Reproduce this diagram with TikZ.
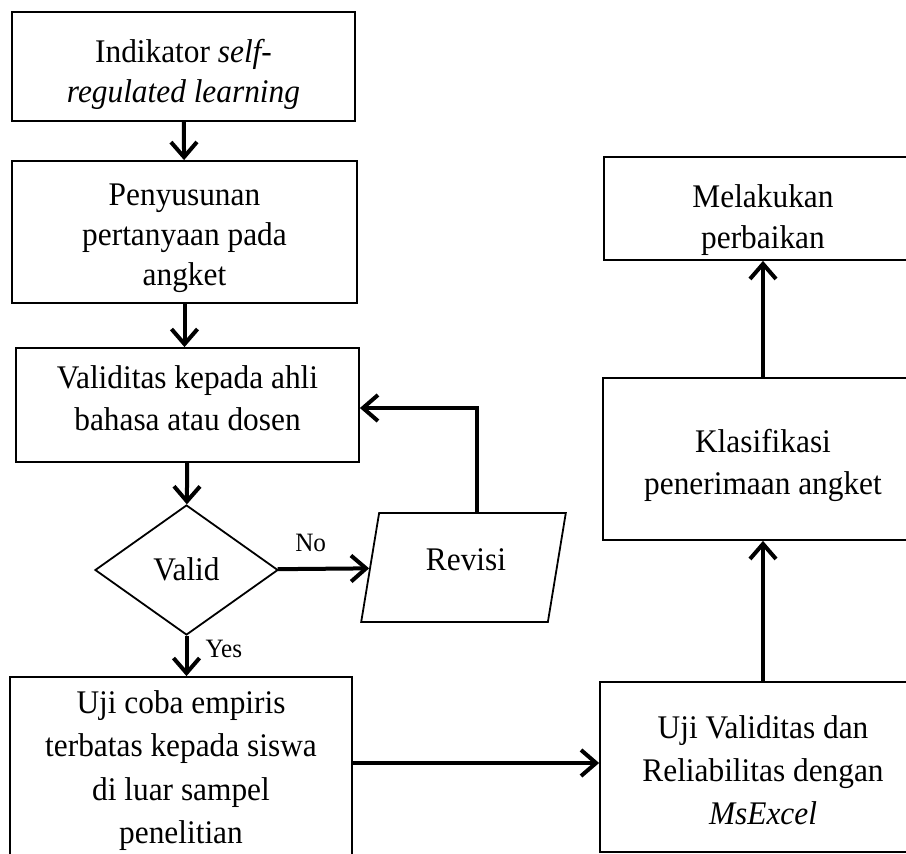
\documentclass[tikz,border=0pt]{standalone}
\usepackage{fontspec}
\setmainfont{Liberation Serif}[FakeStretch=0.95]
\usetikzlibrary{arrows.meta,shapes.geometric}

\begin{document}
\begin{tikzpicture}[x=1pt,y=-1pt,
  box/.style={draw, line width=1.8pt, rectangle, inner sep=0pt},
  decision/.style={draw, line width=1.8pt, diamond, inner sep=0pt,
              minimum width=183pt, minimum height=130pt},
  io/.style={draw, line width=1.8pt, trapezium, trapezium stretches=true,
              trapezium left angle=69, trapezium right angle=111, inner sep=0pt,
              minimum width=205pt, minimum height=109pt},
  txt/.style={inner sep=0pt, align=center, font=\fontsize{33}{#1}\selectfont},
  txt/.default=42,
  arr/.style={line width=4pt, -{Straight Barb[length=15pt,width=26pt]}},
  lbl/.style={font=\fontsize{26.5}{30}\selectfont, inner sep=0pt}]
\useasboundingbox (0,0) rectangle (906,854);
\clip (0,0) rectangle (906,854);

% left column: frames
\node[box, minimum width=343pt, minimum height=109pt] (ind) at (183.5,66.5) {};
\node[box, minimum width=345pt, minimum height=142pt] (pen) at (184.5,232) {};
\node[box, minimum width=343pt, minimum height=114pt] (val) at (187.5,405) {};
\node[decision] (dec) at (186.5,570) {};
\node[io] (rev) at (463.5,567.5) {\phantom{Revisi}};
\node[box, minimum width=342pt, minimum height=186pt] (uji) at (181,770) {};

% right column: frames (running past the right edge)
\node[box, minimum width=326pt, minimum height=170pt] (msx) at (763,767) {};
\node[box, minimum width=320pt, minimum height=162pt] (kla) at (763,459) {};
\node[box, minimum width=318pt, minimum height=103pt] (mel) at (763,208.5) {};

% texts
\node[txt=40] (indT) at (183.5,74.7) {Indikator \textit{self-}\\\textit{regulated learning}};
\node[txt=40] (penT) at (184.5,238) {Penyusunan\\pertanyaan pada\\angket};
\node[txt] (valT) at (187.5,398.2) {Validitas kepada ahli\\bahasa atau dosen};
\node[txt] (decT) at (186.5,569) {Valid};
\node[txt] (revT) at (466,560.2) {Revisi};
\node[txt=43.3] (ujiT) at (181,770.6) {Uji coba empiris\\terbatas kepada siswa\\di luar sampel\\penelitian};
\node[txt=43] (msxT) at (763,770.2) {Uji Validitas dan\\Reliabilitas dengan\\\textit{MsExcel}};
\node[txt=41.7] (klaT) at (763,465.5) {Klasifikasi\\penerimaan angket};
\node[txt=41] (melT) at (763,220) {Melakukan\\perbaikan};

% connectors
\draw[arr] (ind) -- (pen);
\draw[arr] (pen.south) -- (pen.south |- val.north);
\draw[arr] (val) -- (dec);
\draw[arr] (dec) -- node[lbl, above=15pt, pos=0.36] (no) {No} (rev);
\draw[arr] ([xshift=13.5pt]rev.north) |- ([yshift=-3pt]val.east);
\draw[arr] (dec.south) -- node[lbl, right=17pt, pos=0.32] (yes) {Yes} (dec.south |- uji.north);
\draw[arr] ([yshift=7pt]uji.east) -- ([yshift=7pt]uji.east -| msx.west);
\draw[arr] (msx) -- (kla);
\draw[arr] (kla) -- (mel);
\end{tikzpicture}
\end{document}
